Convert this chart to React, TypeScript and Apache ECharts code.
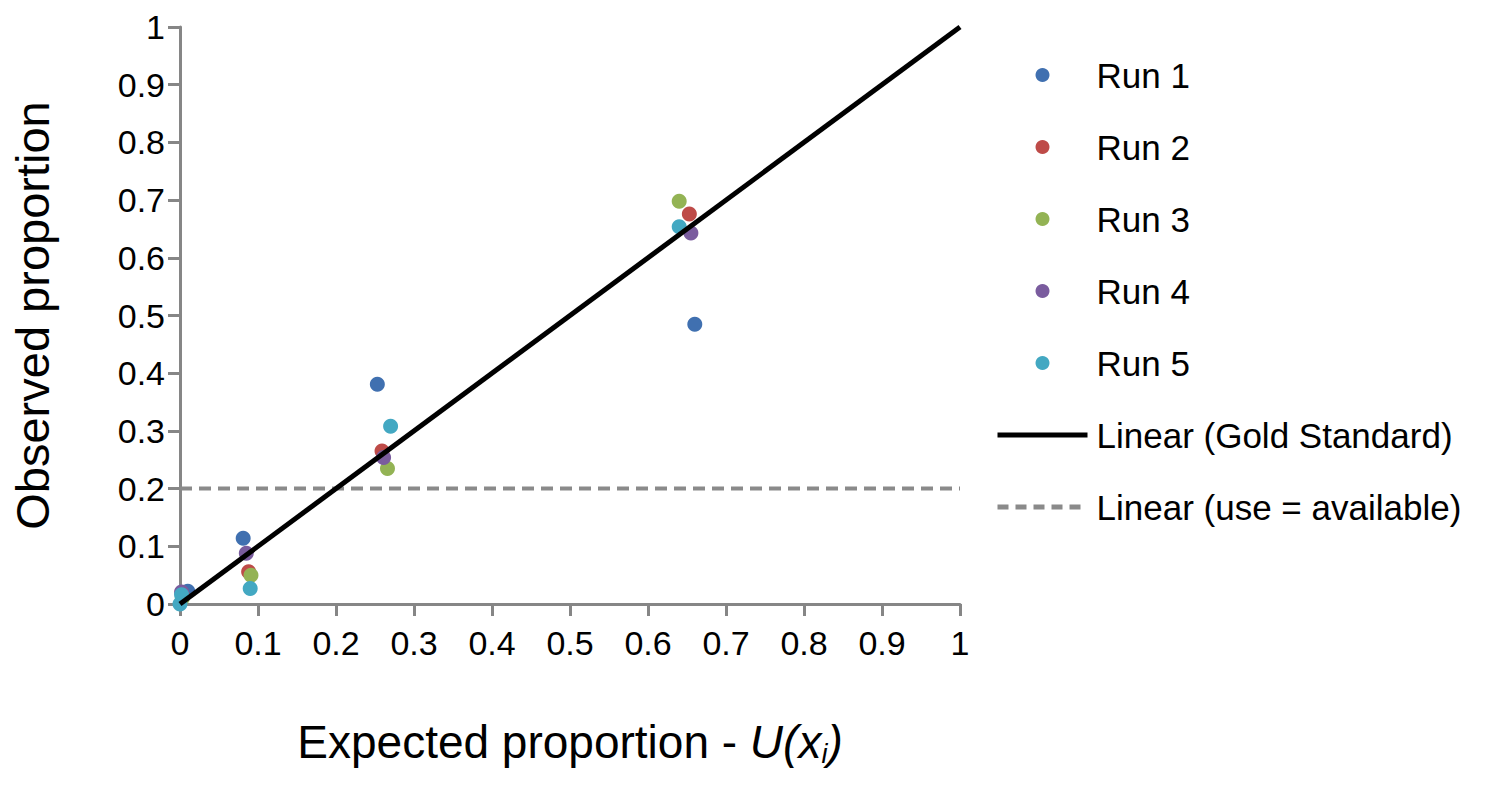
import React, { useEffect, useRef } from "react";
import * as echarts from "echarts";

const runNames = ["Run 1", "Run 2", "Run 3", "Run 4", "Run 5"];
const runColors = ["#4070B0", "#BE4B48", "#93B354", "#7A5C9E", "#43A8C2"];

const run1: [number, number][] = [[0.01, 0.022], [0.081, 0.114], [0.253, 0.381], [0.66, 0.485]];
const run2: [number, number][] = [[0.003, 0.015], [0.088, 0.056], [0.259, 0.265], [0.653, 0.676]];
const run3: [number, number][] = [[0.003, 0.01], [0.091, 0.05], [0.266, 0.235], [0.64, 0.698]];
const run4: [number, number][] = [[0.002, 0.021], [0.085, 0.088], [0.261, 0.254], [0.655, 0.643]];
const run5: [number, number][] = [[0, 0], [0.002, 0.016], [0.09, 0.027], [0.27, 0.308], [0.64, 0.654]];
const runs = [run1, run2, run3, run4, run5];

const goldStandard: [number, number][] = [[0, 0], [1, 1]];
const useAvailable: [number, number][] = [[0, 0.2], [1, 0.2]];

const FONT = "Liberation Sans";

export default function App() {
  const ref = useRef<HTMLDivElement>(null);
  useEffect(() => {
    document.body.style.margin = "0";
    if (!ref.current) return;
    const chart = echarts.init(ref.current, null, { renderer: "svg" });
    const scatterSeries = runs.map((d, i) => ({
      name: runNames[i],
      type: "scatter",
      data: d,
      symbol: "circle",
      symbolSize: 15,
      itemStyle: { color: runColors[i], opacity: 1 },
      z: 3,
    }));
    chart.setOption({
      animation: false,
      textStyle: { fontFamily: FONT },
      grid: { left: 180, right: 537, top: 27, bottom: 181 },
      legend: {
        orient: "vertical",
        left: 995,
        top: 55,
        padding: 0,
        itemWidth: 90,
        itemHeight: 14,
        itemGap: 32,
        textStyle: { fontSize: 35, color: "#000", lineHeight: 40, fontFamily: FONT, padding: [0, 0, 0, 4] },
        data: [
          ...runNames.map((n) => ({ name: n, icon: "circle" })),
          { name: "Linear (Gold Standard)", itemStyle: { opacity: 0 }, lineStyle: { width: 5, color: "#000" } },
          { name: "Linear (use = available)", itemStyle: { opacity: 0 }, lineStyle: { width: 5, color: "#8A8A8A", type: [11, 7] } },
        ],
      },
      xAxis: {
        type: "value",
        min: 0,
        max: 1,
        interval: 0.1,
        splitLine: { show: false },
        axisLine: { show: true, onZero: false, lineStyle: { color: "#868686", width: 3 } },
        axisTick: { show: true, length: 12, lineStyle: { color: "#868686", width: 3 } },
        axisLabel: { fontSize: 34, color: "#000", margin: 22, fontFamily: FONT },
        name: "Expected proportion - {i|U(x}{s|i}{i|)}",
        nameLocation: "middle",
        nameGap: 112,
        nameTextStyle: {
          fontSize: 46,
          color: "#000",
          fontFamily: FONT,
          verticalAlign: "top",
          rich: {
            i: { fontSize: 46, fontStyle: "italic", fontFamily: FONT, color: "#000" },
            s: { fontSize: 27, fontStyle: "italic", fontFamily: FONT, color: "#000", verticalAlign: "bottom", padding: [24, 0, 0, 0] },
          },
        },
      },
      yAxis: {
        type: "value",
        min: 0,
        max: 1,
        interval: 0.1,
        splitLine: { show: false },
        axisLine: { show: true, onZero: false, lineStyle: { color: "#868686", width: 3 } },
        axisTick: { show: true, length: 12, lineStyle: { color: "#868686", width: 3 } },
        axisLabel: { fontSize: 34, color: "#000", margin: 15, fontFamily: FONT },
        name: "Observed proportion",
        nameLocation: "middle",
        nameGap: 124,
        nameTextStyle: { fontSize: 47, color: "#000", fontFamily: FONT },
      },
      series: [
        ...scatterSeries,
        {
          name: "Linear (Gold Standard)",
          type: "line",
          data: goldStandard,
          symbol: "none",
          lineStyle: { color: "#000", width: 5 },
          itemStyle: { color: "#000" },
          z: 4,
        },
        {
          name: "Linear (use = available)",
          type: "line",
          data: useAvailable,
          symbol: "none",
          lineStyle: { color: "#8A8A8A", width: 4, type: [12, 7] },
          itemStyle: { color: "#8A8A8A" },
          z: 2,
        },
      ],
    });
    return () => chart.dispose();
  }, []);
  return <div ref={ref} style={{ width: 1497, height: 785 }} />;
}
